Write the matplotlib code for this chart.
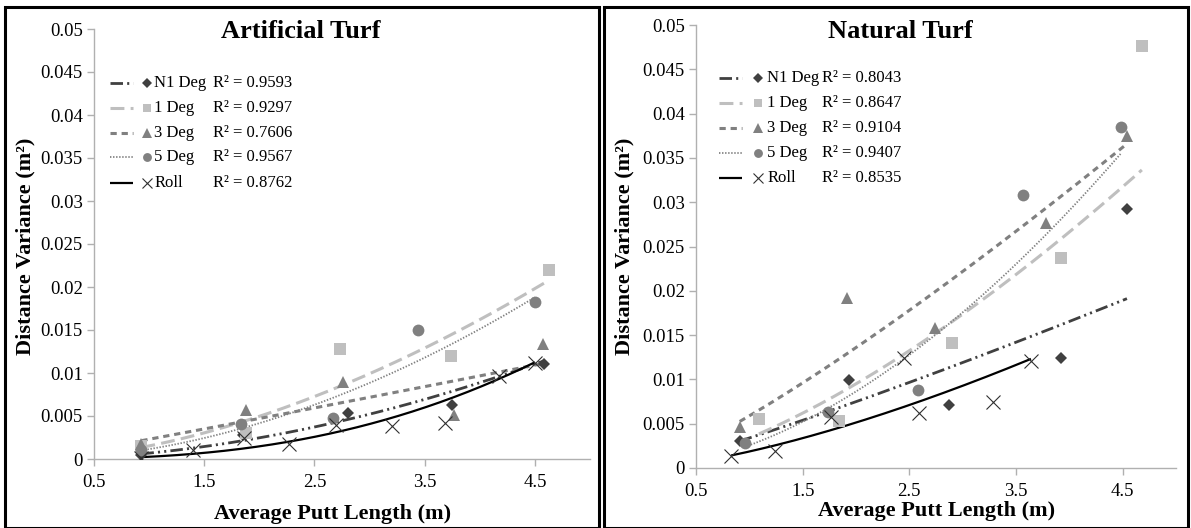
import numpy as np
import matplotlib
matplotlib.use("Agg")
import matplotlib.pyplot as plt
from matplotlib.patches import Rectangle

plt.rcParams['font.family'] = ['Liberation Serif', 'DejaVu Serif']
plt.rcParams['lines.scale_dashes'] = False

W, H = 1191, 528

# ---------------- data: Artificial Turf ----------------
art_n1_x = [0.93, 1.85, 2.80, 3.75, 4.58]
art_n1_y = [0.0005, 0.0028, 0.0054, 0.0063, 0.0110]
art_1_x = [0.93, 1.88, 2.73, 3.74, 4.63]
art_1_y = [0.0015, 0.0030, 0.0128, 0.0120, 0.0220]
art_3_x = [0.93, 1.88, 2.76, 3.77, 4.57]
art_3_y = [0.0018, 0.0057, 0.0089, 0.0051, 0.0134]
art_5_x = [0.93, 1.83, 2.67, 3.44, 4.50]
art_5_y = [0.0010, 0.0041, 0.0048, 0.0150, 0.0183]
art_roll_x = [0.93, 1.40, 1.86, 2.27, 2.70, 3.20, 3.68, 4.17, 4.50]
art_roll_y = [0.0001, 0.0011, 0.0025, 0.0018, 0.0040, 0.0038, 0.0042, 0.0096, 0.0112]
art_r2 = ["0.9593", "0.9297", "0.7606", "0.9567", "0.8762"]

# ---------------- data: Natural Turf ----------------
nat_n1_x = [0.91, 1.93, 2.87, 3.92, 4.54]
nat_n1_y = [0.0030, 0.0099, 0.0071, 0.0124, 0.0292]
nat_1_x = [1.09, 1.84, 2.90, 3.92, 4.68]
nat_1_y = [0.0055, 0.0053, 0.0141, 0.0237, 0.0476]
nat_3_x = [0.91, 1.92, 2.74, 3.78, 4.54]
nat_3_y = [0.0046, 0.0192, 0.0158, 0.0277, 0.0375]
nat_5_x = [0.96, 1.74, 2.58, 3.57, 4.48]
nat_5_y = [0.0028, 0.0063, 0.0088, 0.0308, 0.0385]
nat_roll_x = [0.83, 1.24, 1.77, 2.45, 2.59, 3.28, 3.64]
nat_roll_y = [0.0014, 0.0019, 0.0057, 0.0124, 0.0062, 0.0074, 0.0121]
nat_r2 = ["0.8043", "0.8647", "0.9104", "0.9407", "0.8535"]

series_names = ["N1 Deg", "1 Deg", "3 Deg", "5 Deg", "Roll"]
x_ticks = [0.5, 1.5, 2.5, 3.5, 4.5]
y_ticks = [0, 0.005, 0.01, 0.015, 0.02, 0.025, 0.03, 0.035, 0.04, 0.045, 0.05]

# ---------------- styles ----------------
styles = [
    dict(mcolor='#404040', marker='D', ms=6.5, mew=0, lcolor='#404040', lw=2.0,
         ls=(0, (9, 3, 1.5, 3, 1.5, 3))),
    dict(mcolor='#bfbfbf', marker='s', ms=8, mew=0, lcolor='#bfbfbf', lw=2.2,
         ls=(0, (10, 4.5))),
    dict(mcolor='#808080', marker='^', ms=9, mew=0, lcolor='#808080', lw=2.2,
         ls=(0, (4.5, 3.5))),
    dict(mcolor='#808080', marker='o', ms=8.5, mew=0, lcolor='#808080', lw=1.3,
         ls=(0, (1, 1.2))),
    dict(mcolor='#303030', marker='x', ms=10, mew=0.8, lcolor='#000000', lw=1.6,
         ls='-'),
]


def fmt(v):
    if v == 0:
        return "0"
    return ("%g" % v)


def power_fit(x, y):
    x = np.asarray(x, float)
    y = np.asarray(y, float)
    b, lna = np.polyfit(np.log(x), np.log(y), 1)
    xs = np.linspace(x.min(), x.max(), 200)
    return xs, np.exp(lna) * xs ** b


fig = plt.figure(figsize=(W / 100, H / 100), dpi=100)


def make_panel(rect, data, r2, title, title_xy, ylab_xy, xlab_xy, leg):
    ax = fig.add_axes(rect)
    for (x, y), st in zip(data, styles):
        xs, ys = power_fit(x, y)
        ax.plot(xs, ys, color=st['lcolor'], lw=st['lw'], linestyle=st['ls'],
                zorder=2, solid_capstyle='butt', dash_capstyle='butt')
    for (x, y), st in zip(data, styles):
        ax.plot(x, y, linestyle='none', marker=st['marker'], ms=st['ms'],
                color=st['mcolor'], mew=st['mew'], zorder=3)
    ax.set_xlim(0.5, 5.0)
    ax.set_ylim(0, 0.05)
    ax.set_xticks(x_ticks)
    ax.set_xticklabels([fmt(v) for v in x_ticks])
    ax.set_yticks(y_ticks)
    ax.set_yticklabels([fmt(v) for v in y_ticks])
    for s in ['top', 'right']:
        ax.spines[s].set_visible(False)
    for s in ['left', 'bottom']:
        ax.spines[s].set_color('#b0b0b0')
        ax.spines[s].set_linewidth(1.0)
    ax.tick_params(axis='both', colors='#b0b0b0', labelcolor='black',
                   labelsize=13.5, length=5, width=1.0, direction='out')
    ax.tick_params(axis='y', pad=3)
    ax.tick_params(axis='x', pad=6)
    ax.patch.set_alpha(0)

    # legend (manual, axes coordinates)
    lx0, lx1, mx, nx, rx, rows = leg
    for i, st in enumerate(styles):
        yy = rows[i]
        ax.plot([lx0, lx1], [yy, yy], transform=ax.transAxes, color=st['lcolor'],
                lw=st['lw'], linestyle=st['ls'], clip_on=False,
                solid_capstyle='butt', dash_capstyle='butt')
        ax.plot([mx], [yy], transform=ax.transAxes, linestyle='none',
                marker=st['marker'], ms=st['ms'] * 0.75, color=st['mcolor'],
                mew=st['mew'], clip_on=False)
        ax.text(nx, yy, series_names[i], transform=ax.transAxes, fontsize=12,
                va='center', ha='left')
        ax.text(rx, yy, "R\u00b2 = " + r2[i], transform=ax.transAxes,
                fontsize=12, va='center', ha='left')

    fig.text(title_xy[0] / W, 1 - title_xy[1] / H, title, fontsize=19,
             fontweight='bold', ha='center', va='center')
    fig.text(ylab_xy[0] / W, 1 - ylab_xy[1] / H, "Distance Variance (m\u00b2)",
             fontsize=16, fontweight='bold', rotation=90, ha='center', va='center')
    fig.text(xlab_xy[0] / W, 1 - xlab_xy[1] / H, "Average Putt Length (m)",
             fontsize=16, fontweight='bold', ha='center', va='center')
    return ax


art_data = [(art_n1_x, art_n1_y), (art_1_x, art_1_y), (art_3_x, art_3_y),
            (art_5_x, art_5_y), (art_roll_x, art_roll_y)]
nat_data = [(nat_n1_x, nat_n1_y), (nat_1_x, nat_1_y), (nat_3_x, nat_3_y),
            (nat_5_x, nat_5_y), (nat_roll_x, nat_roll_y)]

make_panel([94 / W, 1 - 459 / H, 496 / W, 430 / H], art_data, art_r2,
           "Artificial Turf", (301, 31), (25, 246), (333, 514),
           (0.032, 0.079, 0.107, 0.121, 0.240, [0.874, 0.816, 0.758, 0.702, 0.642]))
make_panel([696 / W, 1 - 468 / H, 480 / W, 443 / H], nat_data, nat_r2,
           "Natural Turf", (900, 32), (624, 246), (937, 511),
           (0.048, 0.096, 0.129, 0.148, 0.263, [0.880, 0.824, 0.767, 0.711, 0.655]))

# panel borders
fig.add_artist(Rectangle((5 / W, 0), (599 - 5) / W, 1 - 7 / H - 0.0,
                         transform=fig.transFigure, fill=False, ec='black', lw=2.2))
fig.add_artist(Rectangle((604 / W, 0), (1188 - 604) / W, 1 - 7 / H,
                         transform=fig.transFigure, fill=False, ec='black', lw=2.2))

fig.savefig("out.png", dpi=100)
